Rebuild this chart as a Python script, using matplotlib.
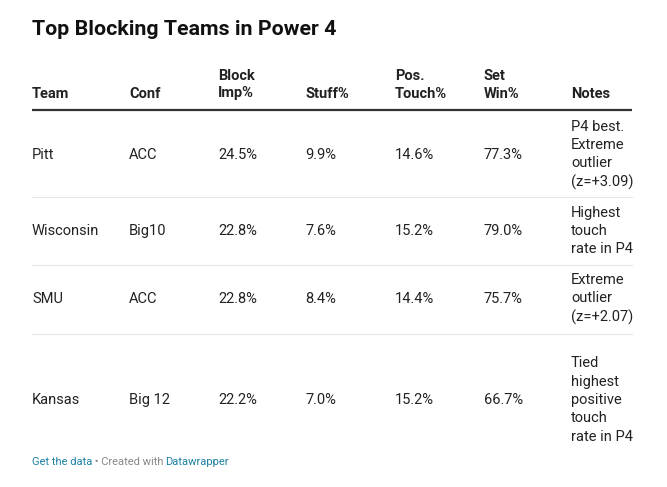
"""Top blocking teams table, drawn in pixel coordinates."""

import matplotlib
matplotlib.use("Agg")
import matplotlib.pyplot as plt

plt.rcParams["font.family"] = ["Roboto", "DejaVu Sans"]

TITLE = "Top Blocking Teams in Power 4"
HEADERS = ["Team", "Conf", "Block\nImp%", "Stuff%", "Pos.\nTouch%", "Set\nWin%", "Notes"]
teams = ["Pitt", "Wisconsin", "SMU", "Kansas"]
confs = ["ACC", "Big10", "ACC", "Big 12"]
block_imp = [24.5, 22.8, 22.8, 22.2]
stuff = [9.9, 7.6, 8.4, 7.0]
pos_touch = [14.6, 15.2, 14.4, 15.2]
set_win = [77.3, 79.0, 75.7, 66.7]
notes = [
    "P4 best.\nExtreme\noutlier\n(z=+3.09)",
    "Highest\ntouch\nrate in P4",
    "Extreme\noutlier\n(z=+2.07)",
    "Tied\nhighest\npositive\ntouch\nrate in P4",
]

W, H = 667, 487
COL_X = [32, 129, 218, 305, 395, 484, 571]
ROW_Y = [155, 231, 299, 400]
SEP_Y = [197, 265, 334]
LEFT, RIGHT = 32, 632
TEXT = "#222222"
LINK = "#1d81a2"


def main() -> None:
    fig = plt.figure(figsize=(W / 100, H / 100), dpi=100)
    ax = fig.add_axes([0, 0, 1, 1])
    ax.set_xlim(0, W)
    ax.set_ylim(H, 0)
    ax.axis("off")

    ax.text(LEFT, 35, TITLE, fontsize=15.4, fontweight="bold", color="#111111",
            ha="left", va="baseline")

    # header, bottom-aligned
    for x, h in zip(COL_X, HEADERS):
        ax.text(x, 97.5, h, fontsize=10.5, fontweight="bold", color=TEXT,
                ha="left", va="baseline", linespacing=1.3)
    ax.plot([LEFT, RIGHT], [110, 110], color="#333333", lw=1.6, solid_capstyle="butt")

    for i, y in enumerate(ROW_Y):
        cells = [
            teams[i],
            confs[i],
            f"{block_imp[i]:.1f}%",
            f"{stuff[i]:.1f}%",
            f"{pos_touch[i]:.1f}%",
            f"{set_win[i]:.1f}%",
            notes[i],
        ]
        for x, c in zip(COL_X, cells):
            ax.text(x, y, c, fontsize=10.5, color=TEXT, ha="left", va="center",
                    linespacing=1.4)
    for y in SEP_Y:
        ax.plot([LEFT, RIGHT], [y, y], color="#e6e6e6", lw=0.8)

    t1 = ax.text(LEFT, 462, "Get the data", fontsize=8, color=LINK,
                 ha="left", va="center")
    t2 = ax.annotate(" \u2022 Created with", xy=(1, 0.5), xycoords=t1,
                     fontsize=8, color="#888888", ha="left", va="center")
    ax.annotate("Datawrapper", xy=(1, 0.5), xycoords=t2, xytext=(0.8, 0),
                textcoords="offset points", fontsize=8,
                color=LINK, ha="left", va="center")

    fig.savefig("out.png", dpi=100, facecolor="white")


if __name__ == "__main__":
    main()
